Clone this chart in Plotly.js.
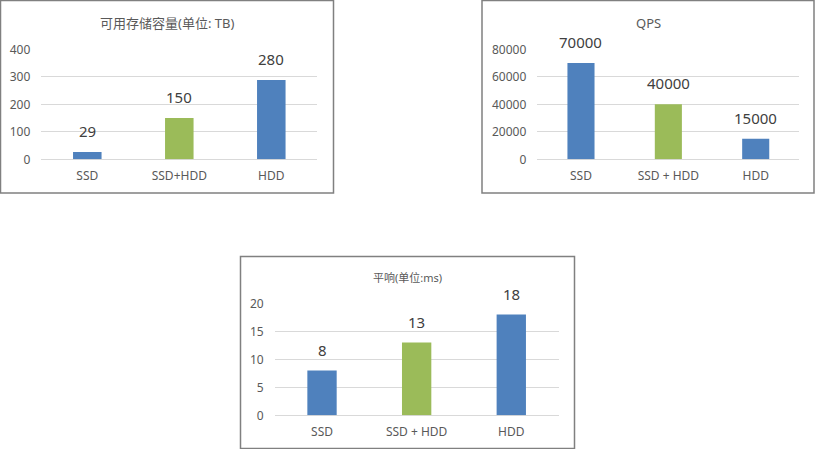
<!DOCTYPE html>
<html>
<head>
<meta charset="utf-8">
<script src="https://cdn.plot.ly/plotly-3.0.1.min.js"></script>
<style>
html,body{margin:0;padding:0;background:#fff;}
#chart{width:815px;height:449px;}
</style>
</head>
<body>
<div id="chart"></div>
<script>
// ---- data ----
const categories1 = ["SSD", "SSD+HDD", "HDD"];
const capacityValues = [27, 150, 288];
const capacityLabels = ["29", "150", "280"];

const categories2 = ["SSD", "SSD + HDD", "HDD"];
const qpsValues = [70000, 40000, 15000];
const qpsLabels = ["70000", "40000", "15000"];

const categories3 = ["SSD", "SSD + HDD", "HDD"];
const latencyValues = [8, 13, 18];
const latencyLabels = ["8", "13", "18"];

const titles = ["可用存储容量(单位: TB)", "QPS", "平响(单位:ms)"];
const yTicks1 = [0, 100, 200, 300, 400];
const yTicks2 = [0, 20000, 40000, 60000, 80000];
const yTicks3 = [0, 5, 10, 15, 20];

// ---- style ----
const BLUE = "#4F81BD", GREEN = "#9BBB59";
const W = 815, H = 449;
const FONT = "Noto Sans, Noto Sans CJK SC, sans-serif";
const px = x => x / W;
const py = y => 1 - y / H;

function barTrace(cats, vals, xa, ya) {
  return {
    type: "bar", x: cats, y: vals,
    marker: {color: [BLUE, GREEN, BLUE]},
    xaxis: xa, yaxis: ya, hoverinfo: "skip", showlegend: false
  };
}

function xAxis(domain, anchor) {
  return {domain: domain, anchor: anchor, range: [-0.5, 2.5], showgrid: false,
    zeroline: false, showline: false, ticks: "", fixedrange: true,
    ticklabelstandoff: 8,
    tickfont: {family: FONT, size: 12, color: "#595959"}};
}
function yAxis(domain, anchor, range, ticks) {
  return {domain: domain, anchor: anchor, range: range, tickvals: ticks,
    ticktext: ticks.map(String),
    showgrid: true, gridcolor: "#D9D9D9", gridwidth: 1, zeroline: true,
    zerolinecolor: "#D9D9D9", zerolinewidth: 1, showline: false, ticks: "",
    ticklabelstandoff: 10, fixedrange: true,
    tickfont: {family: FONT, size: 12, color: "#595959"}};
}

const data = [
  barTrace(categories1, capacityValues, "x", "y"),
  barTrace(categories2, qpsValues, "x2", "y2"),
  barTrace(categories3, latencyValues, "x3", "y3")
];

function valueLabels(cats, vals, labels, xa, ya) {
  return cats.map((c, i) => ({
    text: labels[i], x: c, y: vals[i], xref: xa, yref: ya,
    xanchor: "center", yanchor: "bottom", yshift: 9, showarrow: false,
    font: {family: FONT, size: 15, color: "#404040"}
  }));
}

const boxes = [
  [0.5, 0.5, 333.5, 193],
  [482, 0.5, 814, 193],
  [240.5, 256.5, 574.5, 448.5]
];

const titleAnn = [
  {text: titles[0], x: px(166.5), y: py(23.5), size: 13},
  {text: titles[1], x: px(648), y: py(23), size: 13},
  {text: titles[2], x: px(407), y: py(277), size: 11}
].map(a => ({text: a.text, x: a.x, y: a.y, xref: "paper", yref: "paper",
  xanchor: "center", yanchor: "middle", showarrow: false,
  font: {family: FONT, size: a.size, color: "#595959"}}));

const layout = {
  width: W, height: H, margin: {l: 0, r: 0, t: 0, b: 0},
  paper_bgcolor: "#fff", plot_bgcolor: "rgba(0,0,0,0)",
  bargap: 0.69,
  xaxis: xAxis([px(41.3), px(317.3)], "y"),
  yaxis: yAxis([py(159.3), py(49.3)], "x", [0, 400], yTicks1),
  xaxis2: xAxis([px(537.3), px(799.4)], "y2"),
  yaxis2: yAxis([py(159.3), py(49.3)], "x2", [0, 80000], yTicks2),
  xaxis3: xAxis([px(274.7), px(558.6)], "y3"),
  yaxis3: yAxis([py(415.3), py(303.3)], "x3", [0, 20], yTicks3),
  shapes: boxes.map(b => ({type: "rect", xref: "paper", yref: "paper",
    x0: px(b[0]), x1: px(b[2]), y0: py(b[3]), y1: py(b[1]),
    line: {color: "#808080", width: 1.5}, fillcolor: "rgba(0,0,0,0)"})),
  annotations: titleAnn
    .concat(valueLabels(categories1, capacityValues, capacityLabels, "x", "y"))
    .concat(valueLabels(categories2, qpsValues, qpsLabels, "x2", "y2"))
    .concat(valueLabels(categories3, latencyValues, latencyLabels, "x3", "y3"))
};

Plotly.newPlot("chart", data, layout, {displayModeBar: false, staticPlot: true});
</script>
</body>
</html>
